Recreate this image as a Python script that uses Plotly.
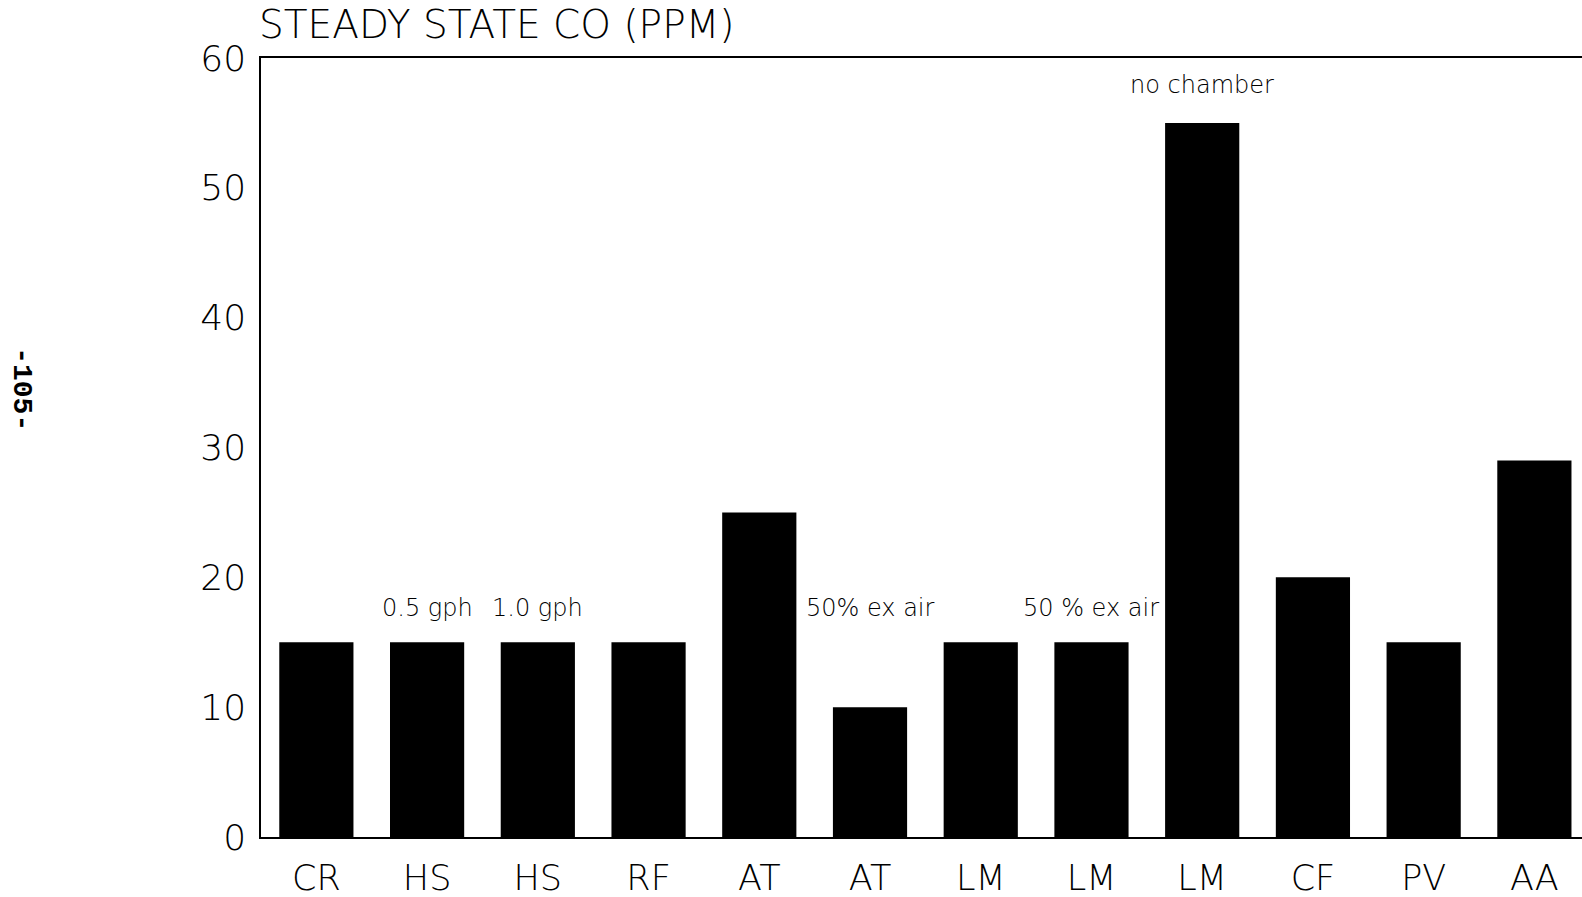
import plotly.graph_objects as go

# steady state CO readings per heater test
categories = ["CR", "HS", "HS", "RF", "AT", "AT", "LM", "LM", "LM", "CF", "PV", "AA"]
co_ppm = [15, 15, 15, 15, 25, 10, 15, 15, 55, 20, 15, 29]

# notes printed above some of the bars
note_bars = [1, 2, 5, 7, 8]
note_texts = ["0.5 gph", "1.0 gph", "50% ex air", "50 % ex air", "no chamber"]

FONT = "DejaVu Sans"
THIN = 200
positions = list(range(len(categories)))

fig = go.Figure()
fig.add_trace(
    go.Bar(
        x=positions,
        y=co_ppm,
        marker=dict(color="#000000", line=dict(width=0)),
        showlegend=False,
    )
)

for idx, text in zip(note_bars, note_texts):
    # low notes all sit on one line, the tall bar gets its note on top
    level = 57.9 if co_ppm[idx] > 50 else 17.6
    fig.add_annotation(
        x=idx,
        y=level,
        xref="x",
        yref="y",
        text=text,
        showarrow=False,
        xanchor="center",
        yanchor="middle",
        font=dict(family=FONT, size=24, color="#000000", weight=THIN),
    )

# page number written sideways in the margin
fig.add_annotation(
    x=-0.181,
    y=0.575,
    xref="paper",
    yref="paper",
    xanchor="center",
    yanchor="middle",
    text="<b>-105-</b>",
    textangle=90,
    showarrow=False,
    font=dict(family="Liberation Mono", size=28, color="#000000"),
)

fig.update_layout(
    width=1582,
    height=897,
    margin=dict(l=261, r=0, t=58, b=60),
    paper_bgcolor="#ffffff",
    plot_bgcolor="#ffffff",
    bargap=0.33,
    font=dict(family=FONT, color="#000000", weight=THIN),
    title=dict(
        text="STEADY STATE CO (PPM)",
        x=259 / 1582,
        xanchor="left",
        y=1 - 24 / 897,
        yanchor="middle",
        font=dict(family=FONT, size=39, color="#000000", weight=THIN),
    ),
)

fig.update_xaxes(
    range=[-0.5, 11.43],
    tickmode="array",
    tickvals=positions,
    ticktext=categories,
    tickfont=dict(family=FONT, size=35, weight=THIN),
    ticklabelstandoff=9,
    showgrid=False,
    zeroline=False,
    showline=True,
    mirror=True,
    linecolor="#000000",
    linewidth=1.5,
    ticks="",
)
fig.update_yaxes(
    range=[0, 60],
    tickvals=[0, 10, 20, 30, 40, 50, 60],
    tickfont=dict(family=FONT, size=36, weight=THIN),
    ticklabelstandoff=6,
    showgrid=False,
    zeroline=False,
    showline=True,
    linecolor="#000000",
    linewidth=1.5,
    ticks="",
)

# drop the page's default body margin so the figure fills the window exactly
fig.write_html(
    "out.html",
    config={"displayModeBar": False},
    post_script="document.body.style.margin = '0';",
)
